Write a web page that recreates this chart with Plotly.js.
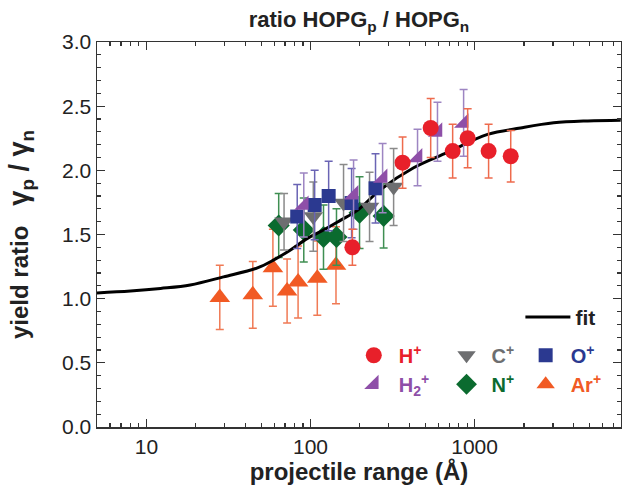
<!DOCTYPE html>
<html><head><meta charset="utf-8">
<script src="https://cdn.plot.ly/plotly-3.0.1.min.js"></script>
<style>body{margin:0;background:#fff}#c{width:622px;height:493px}</style>
</head><body><div id="c"></div>
<script>
// H+ (red circles)
const hX = [180, 364, 540, 735, 907, 1217, 1660];
const hY = [1.40, 2.06, 2.33, 2.15, 2.25, 2.15, 2.11];
const hE = [0.14, 0.20, 0.23, 0.21, 0.23, 0.21, 0.20];
// H2+ (purple right triangles)
const h2X = [91, 183, 275, 449, 594, 857];
const h2Y = [1.73, 1.81, 1.94, 2.10, 2.30, 2.37];
const h2E = [0.25, 0.27, 0.27, 0.22, 0.23, 0.26];
// C+ (grey inverted triangles)
const cX = [69, 104, 159, 229, 321];
const cY = [1.60, 1.64, 1.745, 1.715, 1.87];
const cE = [0.22, 0.27, 0.30, 0.27, 0.30];
// N+ (green diamonds)
const nX = [64, 91, 120, 144, 199, 279];
const nY = [1.57, 1.535, 1.48, 1.48, 1.67, 1.645];
const nE = [0.25, 0.25, 0.25, 0.22, 0.28, 0.25];
// O+ (blue squares)
const oX = [83, 106, 129, 178, 249];
const oY = [1.64, 1.73, 1.80, 1.745, 1.86];
const oE = [0.25, 0.27, 0.27, 0.27, 0.27];
// Ar+ (orange triangles)
const arX = [28, 44.5, 59, 72, 84, 110, 143];
const arY = [1.01, 1.03, 1.24, 1.06, 1.13, 1.16, 1.26];
const arE = [0.25, 0.26, 0.30, 0.25, 0.28, 0.29, 0.30];
// fit curve
const fitX = [5.0, 8.0, 12.2, 18.5, 29.5, 47.5, 59.4, 75.5, 95.9, 120, 152, 194, 267, 425, 684, 1200, 1905, 3033, 4890, 7770];
const fitY = [1.045, 1.06, 1.08, 1.107, 1.17, 1.24, 1.30, 1.38, 1.47, 1.535, 1.61, 1.69, 1.85, 2.02, 2.14, 2.28, 2.33, 2.37, 2.385, 2.39];
const xTicks = [10, 100, 1000];
const xTickText = ['10', '100', '1000'];

const F = 'Liberation Sans, Arial, Helvetica, sans-serif';
function pts(x, y, e, name, sym, col, ecol, size, leg) {
  return {x: x, y: y, type: 'scatter', mode: 'markers', name: name, legend: leg,
    marker: {symbol: sym, color: col, size: size, line: {width: 0}},
    error_y: {type: 'data', array: e, visible: true, color: ecol, thickness: 1.5, width: 4}};
}
const lbl = (t, c) => '<b><span style="color:' + c + '">' + t + '</span></b>';
const traces = [
  pts(arX, arY, arE, lbl('Ar<sup>+</sup>', '#f15a24'), 'triangle-up', '#f15a24', '#f07a55', 18, 'legend4'),
  pts(nX, nY, nE, lbl('N<sup>+</sup>', '#0b6b2f'), 'diamond', '#0b6b2f', '#3f8f52', 17, 'legend3'),
  {x: fitX, y: fitY, type: 'scatter', mode: 'lines', name: '<b>fit</b>', legend: 'legend',
   line: {color: '#000', width: 3, shape: 'spline'}},
  pts(cX, cY, cE, lbl('C<sup>+</sup>', '#6d6e70'), 'triangle-down', '#6d6e70', '#8a8a8a', 17, 'legend3'),
  pts(oX, oY, oE, lbl('O<sup>+</sup>', '#2b3990'), 'square', '#2b3990', '#6a64b4', 14, 'legend4'),
  pts(h2X, h2Y, h2E, lbl('H<sub>2</sub><sup>+</sup>', '#8e4fa8'), 'triangle-se', '#8e4fa8', '#9d85c2', 16, 'legend2'),
  pts(hX, hY, hE, lbl('H<sup>+</sup>', '#e8202a'), 'circle', '#e8202a', '#ee6b4d', 16, 'legend2')
];
traces[6].legendrank = 1; traces[5].legendrank = 2;
traces[3].legendrank = 1; traces[1].legendrank = 2;
traces[4].legendrank = 1; traces[0].legendrank = 2;

const legBase = {bgcolor: 'rgba(0,0,0,0)', borderwidth: 0, font: {family: F, size: 20}, orientation: 'v', xanchor: 'left', yanchor: 'top', tracegroupgap: 0, itemwidth: 40};
const layout = {
  width: 622, height: 493,
  margin: {l: 97, r: 1, t: 42, b: 66},
  paper_bgcolor: '#fff', plot_bgcolor: '#fff',
  font: {family: F, color: '#222'},
  title: {text: '<b>ratio HOPG<sub>p</sub> / HOPG<sub>n</sub></b>', font: {family: F, size: 22, color: '#222'}, x: 0.5, xref: 'paper', xanchor: 'center', y: 0.96, yanchor: 'middle'},
  xaxis: {type: 'log', range: [Math.log10(5), Math.log10(7800)], tickvals: xTicks, ticktext: xTickText,
    ticks: 'inside', ticklen: 8, tickwidth: 1.2, tickcolor: '#333', showline: true, linecolor: '#333', linewidth: 1.5,
    mirror: 'ticks', showgrid: false, zeroline: false, tickfont: {family: F, size: 21, color: '#222'},
    minor: {dtick: 'D1', ticks: 'inside', ticklen: 4, tickcolor: '#333', showgrid: false},
    title: {text: '<b>projectile range (Å)</b>', font: {family: F, size: 24, color: '#222'}, standoff: 6}},
  yaxis: {range: [0, 3], dtick: 0.5, tickformat: '.1f', ticks: 'inside', ticklen: 8, tickwidth: 1.2, tickcolor: '#333',
    showline: true, linecolor: '#333', linewidth: 1.5, mirror: 'ticks', showgrid: false, zeroline: false,
    tickfont: {family: F, size: 21, color: '#222'},
    minor: {dtick: 0.1, ticks: 'inside', ticklen: 4, tickcolor: '#333', showgrid: false},
    title: {text: '<b>yield ratio   <span style="font-size:27px">γ<sub>p</sub> / γ<sub>n</sub></span></b>', font: {family: F, size: 24, color: '#222'}, standoff: 26}},
  showlegend: true,
  legend: Object.assign({}, legBase, {x: 0.808, y: 0.338, itemwidth: 45, font: {family: F, size: 21}}),
  legend2: Object.assign({}, legBase, {x: 0.4805, y: 0.237}),
  legend3: Object.assign({}, legBase, {x: 0.6575, y: 0.237}),
  legend4: Object.assign({}, legBase, {x: 0.8085, y: 0.237})
};
Plotly.newPlot('c', traces, layout, {displayModeBar: false, staticPlot: true});
</script></body></html>
